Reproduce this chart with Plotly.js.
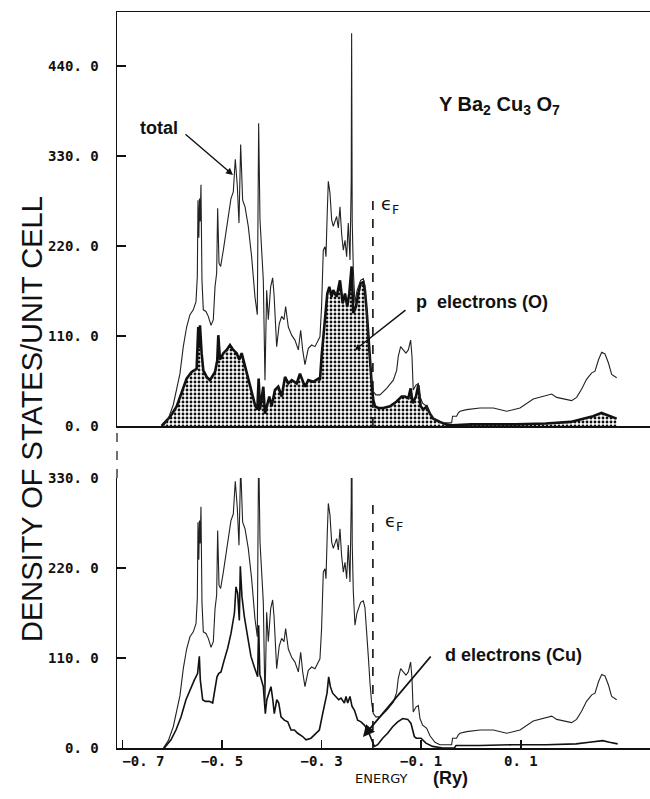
<!DOCTYPE html>
<html>
<head>
<meta charset="utf-8">
<script src="https://cdn.plot.ly/plotly-3.0.1.min.js"></script>
<style>html,body{margin:0;padding:0;background:#fff;}#chart{width:650px;height:799px;}</style>
</head>
<body>
<div id="chart"></div>
<script>
// Total density of states (states / unit cell) vs energy (Ry)
const totalE = [-0.6178,-0.6078,-0.5978,-0.591,-0.5844,-0.5777,-0.571,-0.5643,-0.5576,-0.5522,-0.5495,-0.5482,-0.5465,-0.5452,-0.5438,-0.5422,-0.5402,-0.5375,-0.5322,-0.5275,-0.522,-0.5174,-0.514,-0.5107,-0.5087,-0.506,-0.5027,-0.4973,-0.4907,-0.4853,-0.482,-0.4773,-0.4733,-0.4692,-0.4659,-0.4625,-0.4585,-0.4538,-0.4472,-0.4405,-0.4338,-0.4291,-0.4264,-0.4237,-0.4204,-0.417,-0.4137,-0.4103,-0.407,-0.4023,-0.3983,-0.3956,-0.3902,-0.385,-0.3802,-0.3755,-0.3722,-0.3668,-0.3601,-0.3535,-0.3467,-0.342,-0.338,-0.3334,-0.3267,-0.320,-0.3133,-0.3066,-0.3033,-0.300,-0.2966,-0.2932,-0.2912,-0.2885,-0.2865,-0.2832,-0.2798,-0.2765,-0.2731,-0.2698,-0.2664,-0.2631,-0.2598,-0.2564,-0.253,-0.2497,-0.2464,-0.243,-0.2405,-0.2397,-0.2385,-0.2363,-0.233,-0.229,-0.2216,-0.2163,-0.213,-0.2096,-0.2062,-0.2029,-0.1995,-0.1962,-0.191,-0.1828,-0.1694,-0.156,-0.1493,-0.146,-0.1413,-0.136,-0.1306,-0.1259,-0.1212,-0.1185,-0.116,-0.1105,-0.1058,-0.1025,-0.0971,-0.089,-0.0824,-0.0724,-0.0623,-0.0389,-0.0370,-0.029,-0.0255,-0.022,-0.0087,0.018,0.045,0.0716,0.0984,0.125,0.152,0.162,0.172,0.202,0.212,0.222,0.232,0.2424,0.249,0.256,0.2624,0.269,0.276,0.2824,0.2925];
const totalV = [0,9,26,44,64,97,121,136,142,152,183,276,230,278,250,295,178,142,140,134,123,130,170,187,266,199,195,215,244,264,278,286,326,293,248,344,276,268,244,207,158,136,370,252,219,178,56,166,130,170,181,162,97,125,134,130,146,121,111,105,93,117,93,75,95,99,97,105,109,146,215,219,207,264,299,285,252,244,250,256,242,268,235,215,227,207,248,203,300,480,250,191,150,165,178,180,172,145,112,80,55,42,38,38,46,56,68,85,97,93,89,93,105,85,44,50,52,36,28,24,15,7,4,4,12,12,16,18,20,22,22,18,22,33,37,39,35,31,35,45,57,65,67,81,90,88,77,63,59];

// p electrons (O)
const pE = [-0.6212,-0.6044,-0.591,-0.581,-0.571,-0.561,-0.5509,-0.549,-0.5476,-0.546,-0.5442,-0.5409,-0.5375,-0.5308,-0.5241,-0.514,-0.5095,-0.5074,-0.504,-0.4973,-0.4907,-0.484,-0.4773,-0.4706,-0.4652,-0.4605,-0.4538,-0.4472,-0.4405,-0.4338,-0.429,-0.4264,-0.4237,-0.417,-0.4137,-0.409,-0.405,-0.4003,-0.3936,-0.387,-0.38,-0.3735,-0.3668,-0.36,-0.35,-0.3434,-0.3367,-0.3334,-0.3267,-0.3166,-0.3066,-0.3033,-0.300,-0.2932,-0.2885,-0.2845,-0.2798,-0.2765,-0.2698,-0.2631,-0.2577,-0.253,-0.2484,-0.2444,-0.2397,-0.2363,-0.231,-0.2263,-0.2216,-0.2163,-0.213,-0.2096,-0.2062,-0.2029,-0.1995,-0.1962,-0.1928,-0.1862,-0.1762,-0.1627,-0.1493,-0.1393,-0.1326,-0.1259,-0.1212,-0.1172,-0.1105,-0.1058,-0.101,-0.0958,-0.089,-0.0824,-0.0757,-0.0623,-0.05,-0.037,0.0,0.09,0.15,0.2,0.23,0.245,0.262,0.275,0.2925];
const pV = [0,11,24,40,58,66,70,100,121,95,123,89,68,60,56,66,80,111,81,89,93,99,93,89,81,89,73,56,40,26,20,58,20,48,15,28,36,24,44,48,36,60,52,56,52,64,52,48,56,54,58,56,85,134,162,170,158,166,158,178,150,162,146,162,195,138,146,162,174,176,166,142,109,77,52,32,24,22,22,24,30,36,36,34,46,28,36,50,24,20,24,15,9,5,2,1,2,2,3,5,10,12,16,13,9];

// d electrons (Cu)
const dE = [-0.6158,-0.6024,-0.5924,-0.5823,-0.5723,-0.5622,-0.5556,-0.549,-0.547,-0.5455,-0.5435,-0.5388,-0.5335,-0.5254,-0.5187,-0.5154,-0.512,-0.510,-0.5067,-0.502,-0.4953,-0.4886,-0.4819,-0.475,-0.4719,-0.4685,-0.4652,-0.4632,-0.4599,-0.4552,-0.4485,-0.4418,-0.4351,-0.4284,-0.4264,-0.424,-0.417,-0.413,-0.410,-0.406,-0.4016,-0.398,-0.395,-0.390,-0.386,-0.3815,-0.3748,-0.368,-0.3614,-0.3547,-0.348,-0.338,-0.3313,-0.3213,-0.3112,-0.3045,-0.2978,-0.2925,-0.2891,-0.2858,-0.2824,-0.2778,-0.271,-0.2657,-0.261,-0.2543,-0.251,-0.2476,-0.243,-0.239,-0.234,-0.2276,-0.2208,-0.2142,-0.2075,-0.2008,-0.1941,-0.1874,-0.1774,-0.1674,-0.1573,-0.1472,-0.137,-0.127,-0.1205,-0.1138,-0.110,-0.1004,-0.0904,-0.077,-0.057,-0.0335,-0.03,0.017,0.0837,0.1506,0.211,0.2376,0.2644,0.278,0.2945];
const dV = [0,10,22,38,59,75,83,91,108,112,83,59,57,57,55,67,75,87,91,93,108,122,140,165,197,189,156,222,185,161,136,112,99,87,150,90,75,42,59,67,75,59,42,59,55,38,34,32,22,22,18,14,10,12,18,22,42,59,67,87,75,67,63,59,61,55,63,55,63,51,46,34,32,28,22,12,2,4,12,18,26,32,36,35,30,14,12,12,6,2,0,0,3,3,4,4,5,7,9,7,5];

const fermiE = -0.197;
const topTickVals = [0, 110, 220, 330, 440];
const topTickText = ['0. 0', '110. 0', '220. 0', '330. 0', '440. 0'];
const botTickVals = [0, 110, 220, 330];
const botTickText = ['0. 0', '110. 0', '220. 0', '330. 0'];
const xTickVals = [-0.7, -0.5, -0.3, -0.1, 0.1];
const xTickText = ['\u00a0\u00a0\u00a0\u00a0\u00a0\u22120. 7', '\u22120. 5', '\u22120. 3', '\u22120. 1', '0. 1'];

const ink = '#111';
const tickFont = {family: 'DejaVu Sans Mono', size: 14, color: ink, weight: 'bold'};
const lblFont = {family: 'Liberation Sans, Arial', size: 18, color: ink, weight: 'bold'};

const traces = [
  {x: pE, y: pV, xaxis: 'x2', yaxis: 'y2', type: 'scatter', mode: 'lines',
   fill: 'tozeroy', fillcolor: 'rgba(0,0,0,0)',
   fillpattern: {shape: '.', fgcolor: '#111', bgcolor: '#fff', size: 4, solidity: 0.4},
   line: {color: ink, width: 2.6}, hoverinfo: 'skip'},
  {x: totalE, y: totalV, xaxis: 'x2', yaxis: 'y2', type: 'scatter', mode: 'lines',
   line: {color: '#222', width: 1.1}, hoverinfo: 'skip'},
  {x: totalE, y: totalV, xaxis: 'x', yaxis: 'y', type: 'scatter', mode: 'lines',
   line: {color: '#222', width: 1.1}, hoverinfo: 'skip'},
  {x: dE, y: dV, xaxis: 'x', yaxis: 'y', type: 'scatter', mode: 'lines',
   line: {color: ink, width: 1.6}, hoverinfo: 'skip'}
];

const layout = {
  width: 650, height: 799,
  margin: {l: 117, r: 0, t: 12, b: 51},
  paper_bgcolor: '#fff', plot_bgcolor: '#fff',
  showlegend: false,
  xaxis: {domain: [0, 1], anchor: 'y', range: [-0.7108, 0.3594],
          tickvals: xTickVals, ticktext: xTickText, ticks: 'inside', ticklen: 8, tickwidth: 1.5,
          tickcolor: ink, showline: true, linecolor: ink, linewidth: 1.5, showgrid: false, zeroline: false,
          tickfont: tickFont},
  xaxis2: {domain: [0, 1], anchor: 'y2', matches: 'x', range: [-0.7108, 0.3594],
           showticklabels: false, ticks: '', showline: true, mirror: true, linecolor: ink, linewidth: 1.5,
           showgrid: false, zeroline: false},
  yaxis: {domain: [0, 0.3668], anchor: 'x', range: [0, 330],
          tickvals: botTickVals, ticktext: botTickText, ticks: 'inside', ticklen: 9, tickwidth: 1.5,
          tickcolor: ink, showline: true, linecolor: ink, linewidth: 1.5, showgrid: false, zeroline: false,
          tickfont: tickFont, ticklabelstandoff: 14},
  yaxis2: {domain: [0.4375, 1], anchor: 'x2', range: [0, 506],
           tickvals: topTickVals, ticktext: topTickText, ticks: 'inside', ticklen: 9, tickwidth: 1.5,
           tickcolor: ink, showline: true, linecolor: ink, linewidth: 1.5, showgrid: false, zeroline: false,
           tickfont: tickFont, ticklabelstandoff: 14},
  shapes: [
    {type: 'line', xref: 'x2', yref: 'y2', x0: fermiE, x1: fermiE, y0: 0, y1: 286,
     line: {color: ink, width: 1.6, dash: 'dash'}},
    {type: 'line', xref: 'x', yref: 'y', x0: fermiE, x1: fermiE, y0: 0, y1: 300,
     line: {color: ink, width: 1.6, dash: 'dash'}},
    {type: 'line', xref: 'paper', yref: 'paper', x0: 0, x1: 0, y0: 0.3668, y1: 0.4375,
     line: {color: ink, width: 1.2, dash: 'dash'}}
  ],
  annotations: [
    {xref: 'paper', yref: 'paper', x: -0.1595, y: 0.447, text: 'DENSITY OF STATES/UNIT CELL',
     textangle: -90, showarrow: false, xanchor: 'center', yanchor: 'middle',
     font: {family: 'Liberation Sans, Arial', size: 29, color: ink}},
    {xref: 'paper', yref: 'paper', x: 0.497, y: -0.0408, text: 'ENERGY', showarrow: false,
     xanchor: 'center', yanchor: 'middle', font: {family: 'DejaVu Sans', size: 13, color: ink}},
    {xref: 'paper', yref: 'paper', x: 0.625, y: -0.0408, text: '(Ry)', showarrow: false,
     xanchor: 'center', yanchor: 'middle', font: {family: 'Liberation Sans, Arial', size: 18, color: ink, weight: 'bold'}},
    {xref: 'paper', yref: 'paper', x: 0.0788, y: 0.8424, text: 'total', showarrow: false,
     xanchor: 'center', yanchor: 'middle', font: lblFont},
    {xref: 'paper', yref: 'paper', x: 0.2176, y: 0.7785, ax: -49, ay: -42, text: '',
     showarrow: true, arrowhead: 2, arrowsize: 1, arrowwidth: 1.4, arrowcolor: ink},
    {xref: 'paper', yref: 'paper', x: 0.6848, y: 0.606, text: 'p\u00a0\u00a0electrons (O)', showarrow: false,
     xanchor: 'center', yanchor: 'middle', font: lblFont},
    {xref: 'paper', yref: 'paper', x: 0.4465, y: 0.5408, ax: 52, ay: -41, text: '',
     showarrow: true, arrowhead: 2, arrowsize: 0.8, arrowwidth: 1.4, arrowcolor: ink},
    {xref: 'paper', yref: 'paper', x: 0.743, y: 0.1264, text: 'd electrons (Cu)', showarrow: false,
     xanchor: 'center', yanchor: 'middle', font: lblFont},
    {xref: 'paper', yref: 'paper', x: 0.4615, y: 0.01495, ax: 69, ay: -82, text: '',
     showarrow: true, arrowhead: 2, arrowsize: 1.3, arrowwidth: 1.8, arrowcolor: ink},
    {xref: 'paper', yref: 'paper', x: 0.7167, y: 0.8736, text: 'Y Ba<sub>2</sub> Cu<sub>3</sub> O<sub>7</sub>', showarrow: false,
     xanchor: 'center', yanchor: 'middle', font: {family: 'Liberation Sans, Arial', size: 20, color: ink, weight: 'bold'}},
    {xref: 'paper', yref: 'paper', x: 0.5122, y: 0.7378, text: '\u03f5<sub>F</sub>', showarrow: false,
     xanchor: 'center', yanchor: 'middle', font: {family: 'DejaVu Sans', size: 18, color: ink}},
    {xref: 'paper', yref: 'paper', x: 0.5197, y: 0.3071, text: '\u03f5<sub>F</sub>', showarrow: false,
     xanchor: 'center', yanchor: 'middle', font: {family: 'DejaVu Sans', size: 18, color: ink}}
  ]
};

Plotly.newPlot('chart', traces, layout, {staticPlot: true, displayModeBar: false});
</script>
</body>
</html>
